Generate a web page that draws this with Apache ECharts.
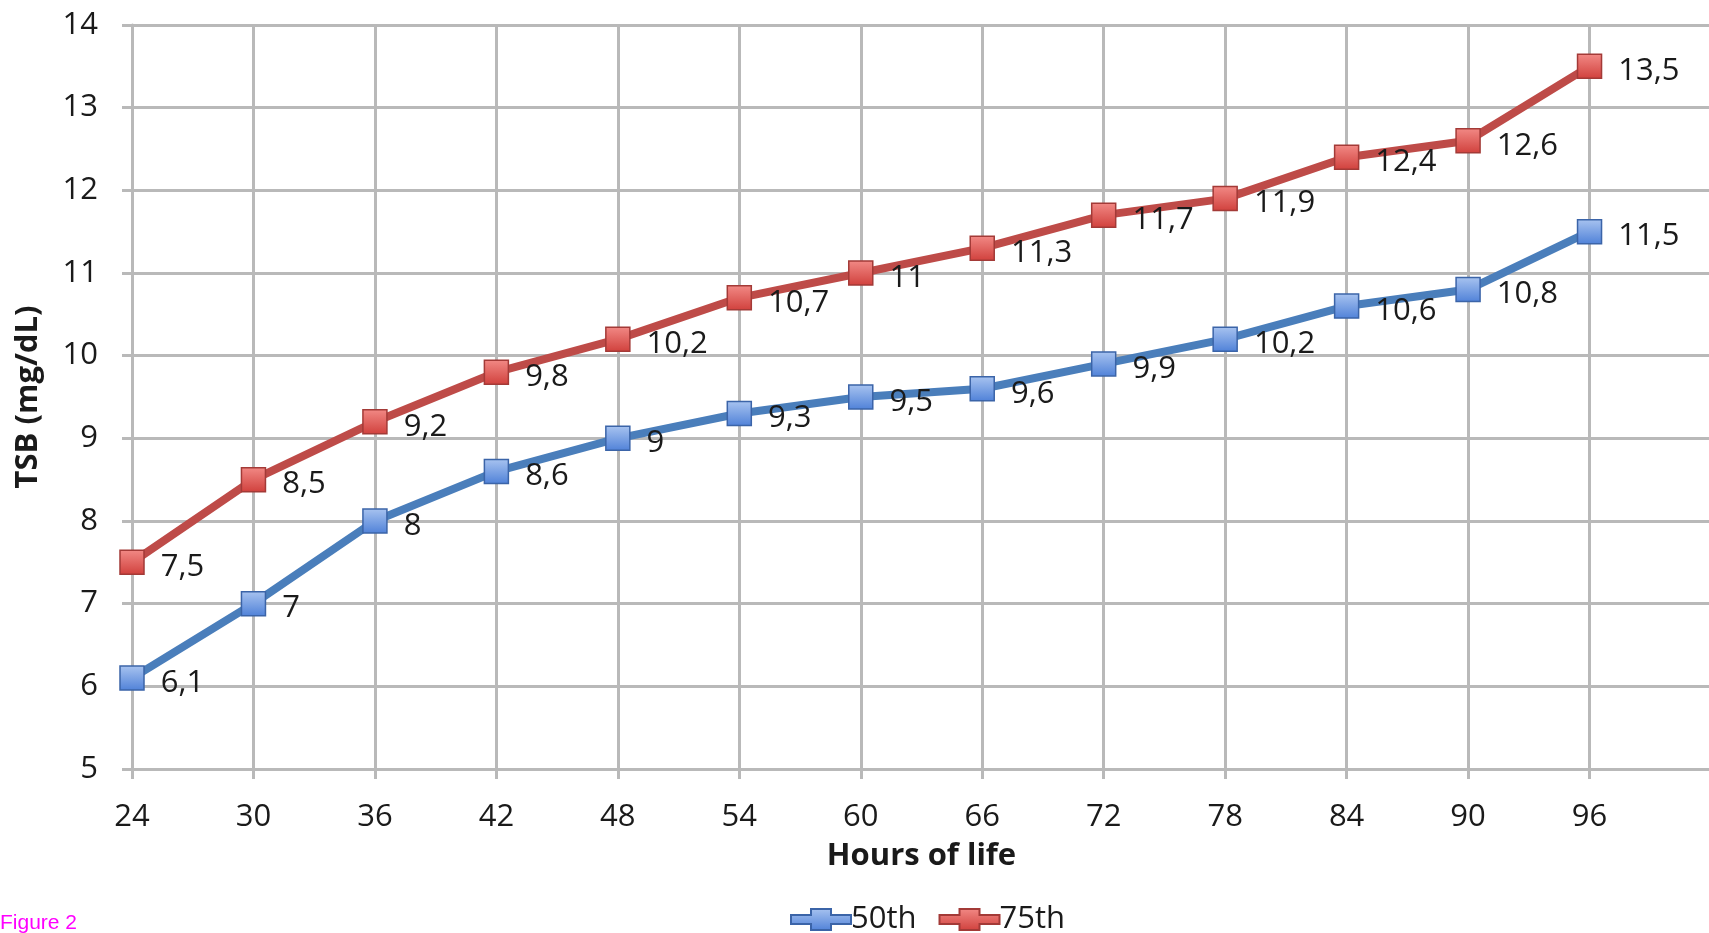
<!DOCTYPE html>
<html>
<head>
<meta charset="utf-8">
<title>TSB by hours of life</title>
<script src="https://cdn.jsdelivr.net/npm/echarts@6/dist/echarts.min.js"></script>
<style>
  html, body { margin: 0; padding: 0; background: #ffffff; }
  #chart { width: 1709px; height: 933px; }
</style>
</head>
<body>
<div id="chart"></div>
<script>
// Hours of life (x) and TSB percentiles (mg/dL)
const hours = [24, 30, 36, 42, 48, 54, 60, 66, 72, 78, 84, 90, 96];
const p50 = [6.1, 7, 8, 8.6, 9, 9.3, 9.5, 9.6, 9.9, 10.2, 10.6, 10.8, 11.5];
const p75 = [7.5, 8.5, 9.2, 9.8, 10.2, 10.7, 11, 11.3, 11.7, 11.9, 12.4, 12.6, 13.5];
const seriesNames = ['50th', '75th'];

const FONT = '"Open Sans", "Noto Sans", sans-serif';
const GRID = '#b9b9b9';
// legend glyph: a thick line with a square marker in the middle
const LEGEND_ICON = 'path://M0,7 L20,7 L20,1 L40,1 L40,7 L60,7 L60,16 L40,16 L40,22 L20,22 L20,16 L0,16 Z';

const pairs = vals => hours.map((h, i) => [h, vals[i]]);
const comma = v => String(v).replace('.', ',');

function lineSeries(name, vals, lineColor, fillTop, fillBottom, border) {
  return {
    name: name,
    type: 'line',
    data: pairs(vals),
    symbol: 'rect',
    symbolSize: 24,
    lineStyle: { color: lineColor, width: 8 },
    itemStyle: {
      color: new echarts.graphic.LinearGradient(0, 0, 0, 1, [
        { offset: 0, color: fillTop },
        { offset: 1, color: fillBottom }
      ]),
      borderColor: border,
      borderWidth: 1.5
    },
    label: {
      show: true,
      position: 'right',
      distance: 16,
      offset: [0, 5],
      color: '#1a1a1a',
      fontFamily: FONT,
      fontSize: 31,
      formatter: p => comma(p.value[1])
    },
    emphasis: { disabled: true },
    animation: false,
    z: name === '75th' ? 3 : 2
  };
}

const chart = echarts.init(document.getElementById('chart'), null, { renderer: 'canvas' });
chart.setOption({
  backgroundColor: '#ffffff',
  animation: false,
  grid: {
    left: 132, top: 25, width: 1579, height: 744,
    containLabel: false,
    outerBoundsMode: 'none'
  },
  legend: {
    data: seriesNames.map(n => ({ name: n, icon: LEGEND_ICON })),
    top: 899,
    left: 785,
    itemWidth: 60,
    itemHeight: 23,
    itemGap: 22,
    textStyle: { fontFamily: FONT, fontSize: 31, color: '#1a1a1a', padding: [0, 0, 0, -5] },
    selectedMode: false
  },
  xAxis: {
    type: 'value',
    min: 24,
    max: 102,
    interval: 6,
    name: 'Hours of life',
    nameLocation: 'middle',
    nameGap: 72,
    nameTextStyle: { fontFamily: FONT, fontSize: 31, fontWeight: 'bold', color: '#1a1a1a' },
    axisLine: { show: true, lineStyle: { color: GRID, width: 3 } },
    axisTick: { show: true, length: 10, lineStyle: { color: GRID, width: 3 } },
    axisLabel: {
      margin: 33,
      fontFamily: FONT, fontSize: 31, color: '#1a1a1a',
      formatter: v => (v > 96 ? '' : String(v))
    },
    splitLine: { show: true, lineStyle: { color: GRID, width: 3 } }
  },
  yAxis: {
    type: 'value',
    min: 5,
    max: 14,
    interval: 1,
    name: 'TSB (mg/dL)',
    nameLocation: 'middle',
    nameGap: 88,
    nameRotate: 90,
    nameTextStyle: { fontFamily: FONT, fontSize: 31, fontWeight: 'bold', color: '#1a1a1a' },
    axisLine: { show: true, lineStyle: { color: GRID, width: 3 } },
    axisTick: { show: true, length: 10, lineStyle: { color: GRID, width: 3 } },
    axisLabel: { margin: 34, fontFamily: FONT, fontSize: 31, color: '#1a1a1a' },
    splitLine: { show: true, lineStyle: { color: GRID, width: 3 } }
  },
  series: [
    lineSeries(seriesNames[0], p50, '#4a7ebb', '#a9c4f0', '#4f81d8', '#3b64a8'),
    lineSeries(seriesNames[1], p75, '#be4b48', '#f28a86', '#d0403c', '#a33a37')
  ],
  graphic: [{
    type: 'text',
    left: 0,
    top: 913,
    style: { text: 'Figure 2', fill: '#ff00ff', font: '21px "Liberation Sans", Arial, sans-serif' }
  }]
});
</script>
</body>
</html>
